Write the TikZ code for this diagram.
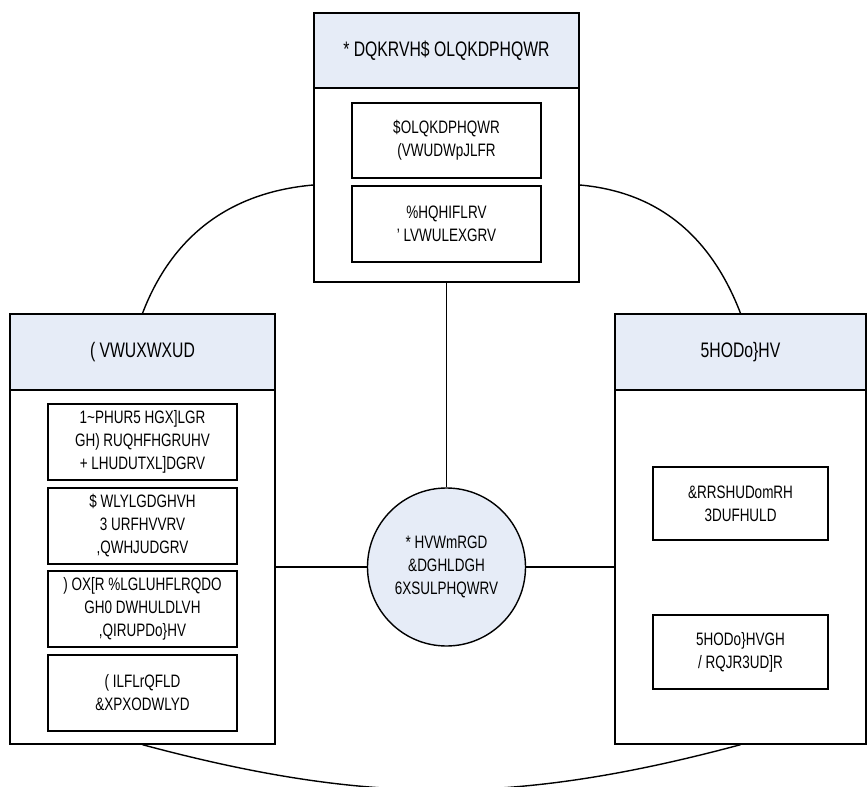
\documentclass[tikz,border=0pt]{standalone}
\usepackage{fontspec}
\setmainfont{Liberation Sans}[FakeStretch=0.75]
\definecolor{headblue}{RGB}{230,236,247}
\newcommand{\headtext}{\fontsize{21}{25}\selectfont}
\newcommand{\itemtext}{\fontsize{18}{23}\selectfont}
\tikzset{
  headbox/.style={draw, line width=1.4pt, fill=headblue, inner sep=0pt, minimum height=76pt, font=\headtext},
  bodybox/.style={draw, line width=1.4pt, inner sep=0pt},
  itembox/.style={draw, line width=1.4pt, inner sep=0pt, minimum height=76pt, align=center, font=\itemtext},
  hubnode/.style={circle, draw, line width=1.4pt, fill=headblue, inner sep=0pt, minimum size=158pt, align=center, font=\itemtext},
  link/.style={line width=1.4pt}
}

\begin{document}
\begin{tikzpicture}[x=1pt,y=1pt]
  \useasboundingbox (0,0) rectangle (868,-787);
  % top
  \node[bodybox, minimum width=265pt, minimum height=194pt] (topbody) at (446.5,-185) {};
  \node[headbox, minimum width=265pt, minimum height=75pt] (tophead) at (446.5,-50.5) {* DQKRVH\$ OLQKDPHQWR};
  \node[itembox, minimum width=189pt, minimum height=75pt] (topitema) at (446.5,-140.5) {\$OLQKDPHQWR\\(VWUDWpJLFR};
  \node[itembox, minimum width=189pt] (topitemb) at (446.5,-224) {\%HQHIFLRV\\' LVWULEXGRV};
  % left
  \node[bodybox, minimum width=265pt, minimum height=354pt] (leftbody) at (142.5,-567) {};
  \node[headbox, minimum width=265pt] (lefthead) at (142.5,-352) {( VWUXWXUD};
  \node[itembox, minimum width=189pt] (leftitema) at (142.5,-442) {1\textasciitilde{}PHUR5 HGX]LGR\\GH) RUQHFHGRUHV\\+ LHUDUTXL]DGRV};
  \node[itembox, minimum width=189pt] (leftitemb) at (142.5,-526) {\$ WLYLGDGHVH\\3 URFHVVRV\\,QWHJUDGRV};
  \node[itembox, minimum width=189pt] (leftitemc) at (142.5,-609) {) OX[R \%LGLUHFLRQDO\\GH0 DWHULDLVH\\,QIRUPDo\}HV};
  \node[itembox, minimum width=189pt] (leftitemd) at (142.5,-693) {( ILFLrQFLD\\\&XPXODWLYD};
  % right
  \node[bodybox, minimum width=251pt, minimum height=354pt] (rightbody) at (740.5,-567) {};
  \node[headbox, minimum width=251pt] (righthead) at (740.5,-352) {5HODo\}HV};
  \node[itembox, minimum width=175pt, minimum height=73pt] (rightitema) at (740.5,-503.5) {\&RRSHUDomRH\\3DUFHULD};
  \node[itembox, minimum width=175pt, minimum height=74pt] (rightitemb) at (740.5,-652) {5HODo\}HVGH\\/ RQJR3UD]R};
  % hub
  \node[hubnode] (hub) at (446.5,-567) {* HVWmRGD\\\&DGHLDGH\\6XSULPHQWRV};
  % links
  \draw[link] (topbody.south) -- (hub.north);
  \draw[link] (hub.west) -- (leftbody.east);
  \draw[link] (hub.east) -- (rightbody.west);
  \draw[link] (topbody.west) to[out=185, in=69] (lefthead.north);
  \draw[link] (topbody.east) to[out=-5, in=111] (righthead.north);
  \draw[link] (leftbody.south) to[out=-15, in=195] (rightbody.south);
\end{tikzpicture}
\end{document}
